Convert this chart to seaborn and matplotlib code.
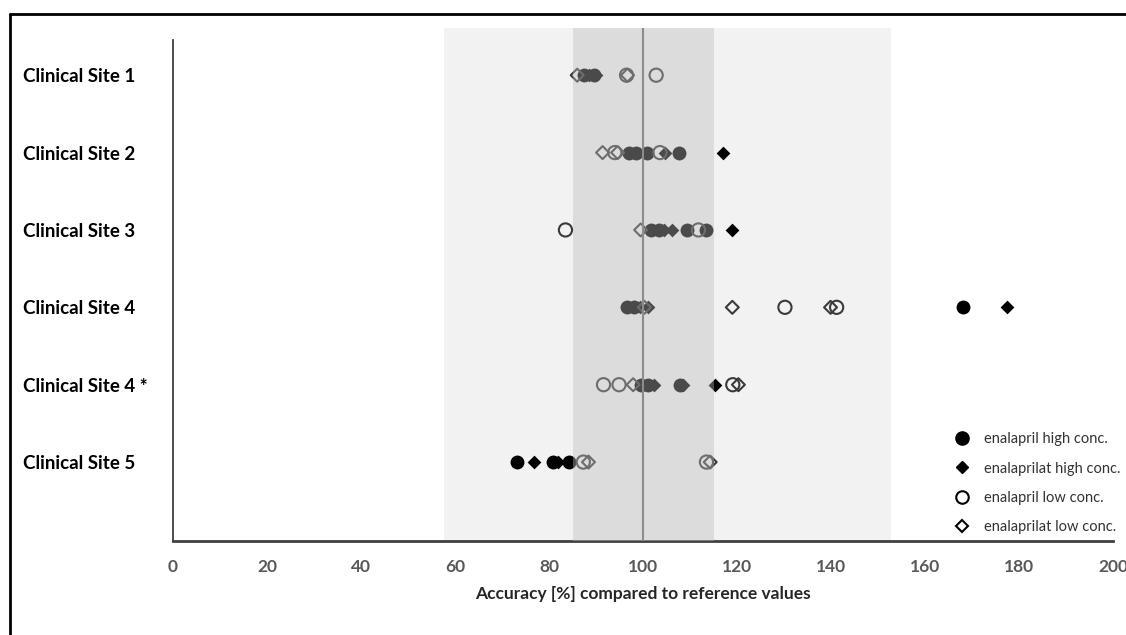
import pandas as pd
import seaborn as sns
import matplotlib.pyplot as plt
from matplotlib.lines import Line2D

# Categorias (de arriba hacia abajo)
sites = ["Clinical Site 1", "Clinical Site 2", "Clinical Site 3",
         "Clinical Site 4", "Clinical Site 4 *", "Clinical Site 5"]

# Valores de exactitud [%], por serie y sitio
enalapril_high = {
    "Clinical Site 1": [87.5, 89.5],
    "Clinical Site 2": [97.0, 98.5, 100.8, 107.7],
    "Clinical Site 3": [101.8, 103.3, 109.3, 113.4],
    "Clinical Site 4": [96.5, 98.0, 168.0],
    "Clinical Site 4 *": [99.5, 101.0, 107.8],
    "Clinical Site 5": [73.1, 80.9, 84.3],
}
enalaprilat_high = {
    "Clinical Site 1": [88.5, 90.0],
    "Clinical Site 2": [104.7, 117.1],
    "Clinical Site 3": [104.5, 106.1, 119.0],
    "Clinical Site 4": [99.3, 101.0, 177.4],
    "Clinical Site 4 *": [102.3, 108.5, 115.3],
    "Clinical Site 5": [76.9, 82.0],
}
enalapril_low = {
    "Clinical Site 1": [96.5, 102.8],
    "Clinical Site 2": [94.0, 103.6],
    "Clinical Site 3": [83.5, 111.8],
    "Clinical Site 4": [130.2, 141.2],
    "Clinical Site 4 *": [91.6, 94.9, 119.1],
    "Clinical Site 5": [87.3, 113.5],
}
enalaprilat_low = {
    "Clinical Site 1": [86.0, 96.7],
    "Clinical Site 2": [91.4, 94.6],
    "Clinical Site 3": [99.5],
    "Clinical Site 4": [100.3, 119.0, 139.9],
    "Clinical Site 4 *": [97.9, 120.3],
    "Clinical Site 5": [88.4, 114.3],
}

series_names = ["enalapril high conc.", "enalaprilat high conc.",
                "enalapril low conc.", "enalaprilat low conc."]
series_data = [enalapril_high, enalaprilat_high, enalapril_low, enalaprilat_low]

x_ticks = [0, 20, 40, 60, 80, 100, 120, 140, 160, 180, 200]

# Tabla larga para seaborn
rows = []
for name, data in zip(series_names, series_data):
    for site, vals in data.items():
        for v in vals:
            rows.append({"site": site, "value": v, "series": name})
df = pd.DataFrame(rows)

sns.set_style("white")
plt.rcParams['font.family'] = ['Lato', 'DejaVu Sans']

fig = plt.figure(figsize=(11.26, 6.35), dpi=100)
ax = fig.add_axes([173 / 1126, 1 - 541 / 635, 940 / 1126, 513 / 635])

# Bandas de aceptacion
ax.axvspan(57.7, 152.8, color="#f2f2f2", lw=0, zorder=0)
ax.axvspan(85, 115, color="#bbbbbb", alpha=0.4, lw=0, zorder=5)
ax.axvline(100, color="#8c8c8c", lw=1.5, zorder=6)

styles = {
    "enalapril high conc.": dict(marker="o", size=10.0, filled=True),
    "enalaprilat high conc.": dict(marker="D", size=7.0, filled=True),
    "enalapril low conc.": dict(marker="o", size=9.5, filled=False),
    "enalaprilat low conc.": dict(marker="D", size=6.6, filled=False),
}

for name in series_names:
    st = styles[name]
    n_before = len(ax.collections)
    sns.stripplot(data=df[df["series"] == name], x="value", y="site",
                  order=sites, jitter=False, marker=st["marker"],
                  size=st["size"], color="black", linewidth=0,
                  zorder=3, ax=ax)
    if not st["filled"]:
        for coll in ax.collections[n_before:]:
            coll.set_facecolor("none")
            coll.set_edgecolor("#3a3a3a")
            coll.set_linewidth(1.5)

ax.set_xlim(0, 200)
ax.set_ylim(6.02, -0.61)
ax.set_xticks(x_ticks)
ax.set_xticklabels([str(t) for t in x_ticks], fontsize=12.5,
                   fontweight="bold", color="#595959")
ax.set_yticks(range(len(sites)))
ax.set_yticklabels(sites, fontsize=13.5, fontweight="bold", color="black",
                   ha="left")

for s in ["top", "right"]:
    ax.spines[s].set_visible(False)
ax.spines["left"].set_bounds(6.02, -0.45)
ax.spines["left"].set_color("#404040")
ax.spines["left"].set_linewidth(1.3)
ax.spines["bottom"].set_color("#404040")
ax.spines["bottom"].set_linewidth(2)
ax.tick_params(axis="x", direction="out", length=5, width=1.2,
               color="#404040", pad=8)
ax.tick_params(axis="y", direction="out", length=3, width=1.2,
               color="#404040", pad=105)
ax.grid(False)

ax.set_ylabel("")
ax.set_xlabel("Accuracy [%] compared to reference values",
              fontsize=12.5, fontweight="bold", labelpad=8)

# Leyenda
handles = [
    Line2D([], [], ls="none", marker="o", markersize=9.5, color="black"),
    Line2D([], [], ls="none", marker="D", markersize=6.5, color="black"),
    Line2D([], [], ls="none", marker="o", markersize=9,
           markerfacecolor="none", markeredgecolor="black", markeredgewidth=1.5),
    Line2D([], [], ls="none", marker="D", markersize=6,
           markerfacecolor="none", markeredgecolor="black", markeredgewidth=1.5),
]
leg = ax.legend(handles, series_names, loc="upper left",
                bbox_to_anchor=((946 - 173) / 940, (541 - 425) / 513),
                frameon=False, fontsize=10.5, handlelength=1.2,
                handletextpad=0.9, labelspacing=1.05, borderpad=0)
for t in leg.get_texts():
    t.set_color("#333333")

# Marco de la figura (borde izquierdo y superior)
fig.add_artist(Line2D([9.5 / 1126, 9.5 / 1126], [0, 1 - 14 / 635],
                      transform=fig.transFigure, color="black", lw=2))
fig.add_artist(Line2D([9.5 / 1126, 1], [1 - 14 / 635, 1 - 14 / 635],
                      transform=fig.transFigure, color="black", lw=2))

fig.savefig("out.png", dpi=100)
